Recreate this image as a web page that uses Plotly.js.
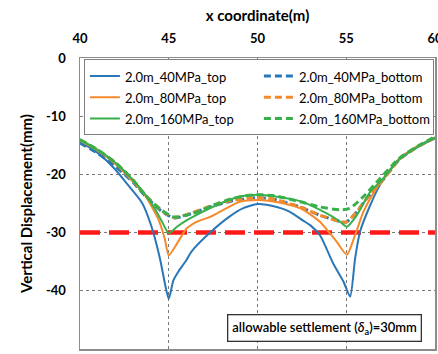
<!DOCTYPE html>
<html>
<head>
<meta charset="utf-8">
<script src="https://cdn.plot.ly/plotly-3.0.1.min.js"></script>
<style>html,body{margin:0;padding:0;background:#fff;}#chart{width:438px;height:354px;}</style>
</head>
<body>
<div id="chart"></div>
<script>
// Series names
const seriesNames = ['2.0m_40MPa_top','2.0m_40MPa_bottom','2.0m_80MPa_top','2.0m_80MPa_bottom','2.0m_160MPa_top','2.0m_160MPa_bottom'];

// 2.0m_40MPa_top
const x40top = [40, 41, 42, 42.7, 43.5, 44, 44.5, 44.8, 45.0, 45.26, 45.52, 46.0, 46.27, 47.33, 48.4, 49.2, 50, 50.8, 51.8, 52.4, 53.0, 53.53, 54.28, 54.84, 55.22, 55.5, 55.78, 56.35, 56.9, 57.3, 58, 59, 60];
const y40top = [-14.4, -16.3, -19.2, -21.8, -24.9, -28.7, -34.4, -39.0, -41.4, -38.2, -36.8, -34.7, -33.3, -30.0, -27.3, -25.8, -25.1, -25.4, -26.4, -27.6, -28.8, -30.5, -35.4, -38.4, -41.0, -34.4, -29.8, -25.3, -21.8, -19.9, -17.3, -15.3, -13.8];

// 2.0m_40MPa_bottom
const x40bot = [40, 41, 42, 43, 43.64, 44.58, 45.3, 46.2, 47.3, 48.5, 49.5, 50.1, 51, 52.4, 53.5, 54.66, 55.0, 55.6, 56.16, 57, 58, 59, 60];
const y40bot = [-14.6, -16.4, -18.6, -21.4, -23.6, -26.3, -27.5, -26.8, -25.6, -24.6, -24.1, -24.0, -24.3, -25.6, -27.0, -28.1, -28.2, -26.4, -24.1, -21.2, -17.4, -15.3, -13.7];

// 2.0m_80MPa_top
const x80top = [40, 41, 42, 43, 43.64, 44.4, 44.77, 45.0, 45.52, 46.0, 46.6, 47.33, 47.9, 49, 50, 51, 52.4, 53.5, 54.47, 55.03, 55.5, 55.97, 56.7, 57.3, 58, 59, 60];
const y80top = [-14.2, -15.9, -18.2, -21.3, -23.5, -27.6, -31.0, -33.9, -31.6, -29.3, -28.1, -27.3, -26.4, -24.7, -24.4, -24.7, -25.8, -28.1, -31.6, -33.8, -30.4, -26.4, -22.4, -20.0, -17.3, -15.2, -13.7];

// 2.0m_80MPa_bottom
const x80bot = [40, 41, 42, 43, 43.64, 44.58, 45.3, 46.2, 47.3, 48.5, 49.5, 50.1, 51, 52.4, 53.5, 54.66, 55.0, 55.6, 56.16, 57, 58, 59, 60];
const y80bot = [-14.1, -15.8, -18.0, -21.0, -23.4, -26.2, -27.4, -26.7, -25.5, -24.5, -24.1, -24.0, -24.3, -25.6, -27.0, -28.1, -28.2, -26.4, -24.1, -21.2, -17.4, -15.3, -13.7];

// 2.0m_160MPa_top
const x160top = [40, 41, 42, 43, 43.64, 44.2, 44.6, 45.0, 45.5, 46.0, 46.6, 47.9, 49, 50, 51, 52.4, 53.9, 54.6, 55.03, 55.6, 56.35, 57, 58, 59, 60];
const y160top = [-14.0, -15.8, -18.0, -21.0, -23.3, -25.8, -28.0, -30.1, -28.9, -27.9, -26.9, -25.0, -23.8, -23.5, -23.8, -24.6, -26.7, -28.0, -29.0, -27.0, -23.0, -21.0, -17.4, -15.3, -13.7];

// 2.0m_160MPa_bottom
const x160bot = [40, 41, 42, 43, 43.64, 44.58, 45.24, 45.52, 46.56, 47.5, 48.5, 49.5, 50.2, 51, 52.4, 53.53, 54.66, 55.22, 55.97, 56.9, 58, 59, 60];
const y160bot = [-14.0, -15.8, -18.0, -21.0, -23.5, -26.1, -27.3, -27.3, -26.5, -25.3, -24.2, -23.6, -23.5, -23.7, -24.7, -25.6, -26.1, -25.8, -23.8, -20.7, -17.2, -15.2, -13.5];

// Allowable settlement line
const limitX = [40, 60];
const limitY = [-30, -30];

// Axis ticks
const xTicks = [40, 45, 50, 55, 60];
const yTicks = [0, -10, -20, -30, -40, -50];

const cBlue = '#2a77b8', cOrange = '#f58a2c', cGreen = '#38b04a';
const FONT = 'Lato, "Open Sans", sans-serif';

const xs = [x40top, x40bot, x80top, x80bot, x160top, x160bot];
const ys = [y40top, y40bot, y80top, y80bot, y160top, y160bot];
const cols = [cBlue, cBlue, cOrange, cOrange, cGreen, cGreen];

const traces = [{
  x: limitX, y: limitY, mode: 'lines', showlegend: false, hoverinfo: 'skip',
  line: {color: '#ff1a1a', width: 4.5, dash: '20px,9px'}
}];
for (let i = 0; i < 6; i++) {
  const dashed = i % 2 === 1;
  traces.push({
    x: xs[i], y: ys[i], mode: 'lines',
    name: '<span style="font-size:13px">' + seriesNames[i] + '</span>',
    line: {color: cols[i], width: dashed ? 3 : 2, dash: dashed ? '7px,4px' : 'solid', shape: 'spline', smoothing: 0.6}
  });
}

const layout = {
  width: 438, height: 354,
  margin: {l: 80, r: 3, t: 58, b: 5},
  paper_bgcolor: '#fff', plot_bgcolor: '#fff',
  font: {family: FONT, color: '#000'},
  showlegend: true,
  xaxis: {
    side: 'top', range: [40, 60], tickvals: xTicks, ticktext: xTicks.map(String),
    showgrid: true, gridcolor: '#7a7a7a', griddash: '3px,3px', gridwidth: 1,
    showline: true, linecolor: '#8c8c8c', linewidth: 1.5, mirror: true,
    ticks: 'outside', ticklen: 8, tickcolor: 'rgba(0,0,0,0)',
    ticklabeloverflow: 'allow',
    zeroline: false,
    tickfont: {family: FONT, size: 13, weight: 'bold'},
    title: {text: 'x coordinate(m)', font: {family: FONT, size: 15, weight: 'bold'}, standoff: 5}
  },
  yaxis: {
    range: [-50, 0], tickvals: yTicks, ticktext: yTicks.map(String),
    showgrid: true, gridcolor: '#7a7a7a', griddash: '3px,3px', gridwidth: 1,
    showline: true, linecolor: '#8c8c8c', linewidth: 1.5, mirror: true,
    ticks: '', zeroline: false, ticklabelstandoff: 10,
    tickfont: {family: FONT, size: 13, weight: 'bold'},
    title: {text: 'Vertical Displacement(mm)', font: {family: FONT, size: 15, weight: 'bold'}, standoff: 9}
  },
  legend: {
    orientation: 'h', x: 0.011, y: 0.995, xanchor: 'left', yanchor: 'top',
    bgcolor: '#fff', bordercolor: '#7f7f7f', borderwidth: 1,
    entrywidth: 129, entrywidthmode: 'pixels',
    font: {family: FONT, size: 14, color: '#000'},
    itemwidth: 30, tracegroupgap: 0
  },
  annotations: [{
    xref: 'paper', yref: 'paper', x: 0.69, y: 0.072, xanchor: 'center', yanchor: 'middle',
    text: 'allowable settlement (<i>δ</i><sub>a</sub>)=30mm', showarrow: false,
    font: {family: FONT, size: 13, weight: 600, color: '#000'},
    bgcolor: '#fff', bordercolor: '#333', borderwidth: 1.3, borderpad: 4
  }]
};

Plotly.newPlot('chart', traces, layout, {displayModeBar: false, staticPlot: true});
</script>
</body>
</html>
